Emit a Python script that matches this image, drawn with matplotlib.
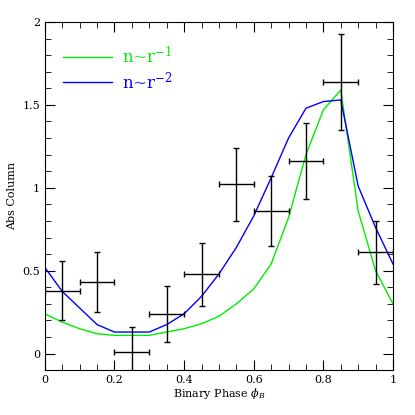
import matplotlib
matplotlib.use("Agg")
import matplotlib.pyplot as plt
from matplotlib.ticker import MultipleLocator

plt.rcParams['font.family'] = ['DejaVu Serif']
plt.rcParams['mathtext.fontset'] = 'dejavuserif'

# data points with errors
phase = [0.05, 0.15, 0.25, 0.35, 0.45, 0.55, 0.65, 0.75, 0.85, 0.95]
phase_err = [0.05] * 10
col = [0.38, 0.43, 0.01, 0.24, 0.48, 1.02, 0.86, 1.16, 1.64, 0.61]
col_err = [0.18, 0.18, 0.15, 0.17, 0.19, 0.22, 0.21, 0.23, 0.29, 0.19]

# model curves
model_x = [0.0, 0.05, 0.1, 0.15, 0.2, 0.25, 0.3, 0.35, 0.4, 0.45, 0.5,
           0.55, 0.6, 0.65, 0.7, 0.75, 0.8, 0.85, 0.9, 0.95, 1.0]
model_r1 = [0.24, 0.19, 0.15, 0.12, 0.11, 0.11, 0.11, 0.13, 0.15, 0.18, 0.225,
            0.30, 0.39, 0.54, 0.82, 1.20, 1.47, 1.59, 0.86, 0.50, 0.30]
model_r2 = [0.52, 0.375, 0.275, 0.175, 0.13, 0.13, 0.13, 0.175, 0.24, 0.345, 0.48,
            0.64, 0.83, 1.06, 1.30, 1.48, 1.52, 1.53, 1.01, 0.76, 0.54]

fig = plt.figure(figsize=(4.15, 4.15), dpi=100)
ax = fig.add_axes([0.108, 0.108, 0.839, 0.839])

ax.plot(model_x, model_r1, color='#00ee00', lw=1, label='n~r$^{-1}$')
ax.plot(model_x, model_r2, color='#0000ff', lw=1, label='n~r$^{-2}$')
ax.errorbar(phase, col, xerr=phase_err, yerr=col_err, fmt='none',
            ecolor='black', elinewidth=1, capsize=2, capthick=1)

ax.set_xlim(0, 1)
ax.set_ylim(-0.1, 2)
ax.xaxis.set_minor_locator(MultipleLocator(0.05))
ax.yaxis.set_minor_locator(MultipleLocator(0.1))
ax.tick_params(which='both', direction='in', top=True, right=True, labelsize=8)
ax.tick_params(which='major', length=7)
ax.tick_params(which='minor', length=4)
ax.set_xticks([0, 0.2, 0.4, 0.6, 0.8, 1])
ax.set_xticklabels(['0', '0.2', '0.4', '0.6', '0.8', '1'])
ax.set_yticks([0, 0.5, 1, 1.5, 2])
ax.set_yticklabels(['0', '0.5', '1', '1.5', '2'])
ax.set_xlabel(r'Binary Phase $\phi_B$', fontsize=8, labelpad=1)
ax.set_ylabel('Abs Column', fontsize=8)

ax.legend(loc='upper left', frameon=False, fontsize=12, labelcolor='linecolor',
          handlelength=2.9, handletextpad=0.6, labelspacing=0.2,
          bbox_to_anchor=(0.01, 0.975))

fig.savefig('out.png', dpi=100)
